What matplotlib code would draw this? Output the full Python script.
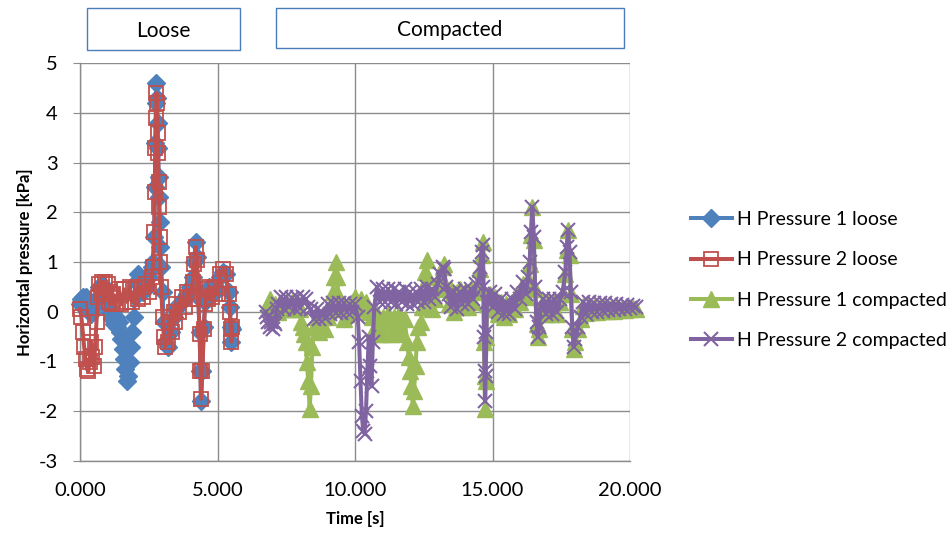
import matplotlib
matplotlib.use("Agg")
import matplotlib.pyplot as plt
from matplotlib.patches import Rectangle

plt.rcParams['font.family'] = ['Lato', 'DejaVu Sans']

# ---------------- data: (time [s], pressure [kPa]) ----------------
p1_loose_pts = [
    (0.00, 0.15), (0.05, 0.25), (0.10, 0.30), (0.15, 0.20), (0.20, 0.30), (0.25, 0.10),
    (0.30, 0.20), (0.40, -0.05), (0.50, 0.10), (0.60, 0.25), (0.70, 0.50), (0.80, 0.55),
    (0.90, 0.45), (1.00, 0.25), (1.05, 0.00), (1.10, 0.10), (1.15, -0.15), (1.20, -0.05),
    (1.25, -0.25), (1.30, -0.10), (1.35, -0.30), (1.40, -0.20), (1.45, -0.40), (1.50, -0.55),
    (1.55, -0.75), (1.60, -0.95), (1.65, -1.15), (1.70, -1.40), (1.75, -1.30), (1.80, -1.00),
    (1.85, -0.70), (1.90, -0.40), (1.95, -0.10), (2.00, 0.30), (2.05, 0.60), (2.10, 0.75),
    (2.20, 0.55), (2.30, 0.40), (2.40, 0.50), (2.50, 0.70), (2.60, 0.90), (2.65, 1.00),
    (2.70, 1.50), (2.72, 2.50), (2.74, 3.40), (2.76, 4.20), (2.78, 4.60), (2.80, 4.30),
    (2.82, 3.80), (2.84, 3.30), (2.86, 2.70), (2.88, 2.30), (2.90, 1.80), (2.92, 1.30),
    (2.95, 0.90), (3.00, 0.40), (3.05, -0.20), (3.10, -0.60), (3.20, -0.70), (3.30, -0.40),
    (3.40, -0.10), (3.50, 0.05), (3.60, 0.15), (3.70, 0.20), (3.80, 0.30), (3.90, 0.35),
    (4.00, 0.50), (4.10, 0.70), (4.15, 1.00), (4.20, 1.40), (4.25, 1.10), (4.30, 0.30),
    (4.35, -0.40), (4.38, -1.20), (4.40, -1.80), (4.45, -1.20), (4.50, -0.30), (4.55, 0.20),
    (4.60, 0.45), (4.70, 0.50), (4.80, 0.40), (4.90, 0.40), (5.00, 0.45), (5.10, 0.70),
    (5.20, 0.80), (5.30, 0.75), (5.40, 0.40), (5.45, 0.10), (5.48, -0.30), (5.50, -0.60),
    (5.53, -0.35),
]

p2_loose_pts = [
    (0.00, 0.05), (0.05, -0.10), (0.10, -0.40), (0.15, -0.70), (0.20, -0.95), (0.25, -1.15),
    (0.30, -1.20), (0.35, -1.00), (0.40, -0.60), (0.45, -0.90), (0.50, -1.10), (0.55, -0.70),
    (0.60, -0.20), (0.65, 0.30), (0.70, 0.55), (0.75, 0.35), (0.80, 0.60), (0.85, 0.40),
    (0.90, 0.60), (0.95, 0.35), (1.00, 0.55), (1.05, 0.20), (1.10, 0.40), (1.15, 0.15),
    (1.20, 0.35), (1.30, 0.15), (1.40, 0.45), (1.50, 0.15), (1.60, 0.45), (1.70, 0.20),
    (1.80, 0.50), (1.90, 0.20), (2.00, 0.45), (2.10, 0.25), (2.20, 0.50), (2.30, 0.30),
    (2.40, 0.55), (2.50, 0.40), (2.60, 0.70), (2.65, 0.90), (2.70, 1.60), (2.72, 2.40),
    (2.74, 3.30), (2.76, 3.90), (2.78, 4.40), (2.80, 4.20), (2.82, 3.60), (2.84, 3.20),
    (2.86, 2.60), (2.88, 2.10), (2.90, 1.50), (2.92, 1.00), (2.95, 0.50), (3.00, -0.10),
    (3.05, -0.50), (3.10, -0.70), (3.20, -0.60), (3.30, -0.20), (3.35, -0.40), (3.40, 0.00),
    (3.45, -0.20), (3.50, 0.15), (3.60, 0.00), (3.70, 0.30), (3.80, 0.10), (3.90, 0.40),
    (4.00, 0.25), (4.10, 0.60), (4.15, 0.95), (4.20, 1.30), (4.25, 1.05), (4.30, 0.25),
    (4.35, -0.45), (4.38, -1.20), (4.40, -1.75), (4.45, -1.20), (4.50, -0.35), (4.55, 0.15),
    (4.60, 0.45), (4.65, 0.25), (4.70, 0.50), (4.80, 0.30), (4.90, 0.50), (5.00, 0.35),
    (5.10, 0.75), (5.20, 0.85), (5.30, 0.75), (5.40, 0.35), (5.45, 0.00), (5.48, -0.35),
    (5.50, -0.60), (5.53, -0.30),
]

p1_comp_pts = [
    (6.85, 0.15), (6.90, 0.25), (7.00, 0.05), (7.10, 0.15), (7.20, 0.00), (7.30, 0.20),
    (7.40, 0.05), (7.50, 0.20), (7.60, 0.05), (7.70, 0.20), (7.80, 0.05), (7.90, 0.20),
    (8.00, 0.05), (8.05, -0.20), (8.10, -0.30), (8.15, -0.45), (8.20, -0.60), (8.25, -1.00),
    (8.30, -1.40), (8.35, -1.95), (8.40, -1.50), (8.45, -0.70), (8.50, -0.30), (8.60, -0.10),
    (8.70, -0.40), (8.80, -0.10), (8.90, -0.35), (9.00, -0.10), (9.10, 0.10), (9.20, 0.40),
    (9.25, 0.70), (9.30, 1.00), (9.35, 0.70), (9.40, 0.30), (9.50, 0.05), (9.60, -0.15),
    (9.70, 0.10), (9.80, -0.05), (9.90, 0.20), (10.00, 0.30), (10.10, 0.10), (10.20, 0.25),
    (10.30, 0.05), (10.40, 0.20), (10.50, 0.00), (10.60, -0.10), (10.70, -0.35), (10.80, -0.05),
    (10.90, -0.45), (11.00, -0.10), (11.10, -0.45), (11.20, -0.05), (11.30, -0.45), (11.40, -0.10),
    (11.50, -0.40), (11.60, -0.05), (11.70, -0.45), (11.80, -0.15), (11.90, -0.60), (11.95, -0.90),
    (12.00, -1.20), (12.05, -1.50), (12.10, -1.90), (12.15, -1.60), (12.20, -1.10), (12.25, -0.60),
    (12.30, -0.30), (12.40, -0.20), (12.45, 0.10), (12.50, 0.50), (12.55, 0.80), (12.60, 1.05),
    (12.65, 0.70), (12.70, 0.30), (12.80, 0.05), (12.90, 0.25), (13.00, 0.45), (13.10, 0.70),
    (13.20, 0.90), (13.25, 0.95), (13.30, 0.50), (13.40, 0.15), (13.50, 0.45), (13.60, 0.00),
    (13.70, 0.40), (13.80, 0.45), (13.90, 0.10), (14.00, 0.40), (14.10, 0.10), (14.20, 0.45),
    (14.30, 0.20), (14.40, 0.50), (14.50, 0.55), (14.55, 0.85), (14.60, 1.15), (14.65, 1.40),
    (14.67, 0.40), (14.69, -0.60), (14.71, -1.30), (14.73, -1.95), (14.75, -1.40), (14.78, -0.50),
    (14.80, 0.15), (14.90, 0.35), (15.00, 0.05), (15.10, 0.30), (15.20, -0.05), (15.30, 0.20),
    (15.40, -0.10), (15.50, 0.15), (15.60, -0.05), (15.70, 0.20), (15.80, 0.05), (15.90, 0.35),
    (16.00, 0.20), (16.10, 0.55), (16.20, 0.30), (16.30, 0.65), (16.35, 0.95), (16.40, 1.55),
    (16.45, 2.10), (16.50, 1.45), (16.55, 0.45), (16.60, -0.25), (16.65, -0.50), (16.70, -0.35),
    (16.75, 0.05), (16.85, 0.20), (16.95, -0.05), (17.05, 0.20), (17.15, -0.05), (17.25, 0.20),
    (17.35, -0.05), (17.45, 0.20), (17.55, 0.35), (17.65, 0.75), (17.70, 1.25), (17.75, 1.65),
    (17.80, 1.15), (17.85, 0.35), (17.90, -0.35), (17.95, -0.75), (18.00, -0.60), (18.10, -0.35),
    (18.20, -0.15), (18.30, 0.12), (18.40, -0.02), (18.50, 0.12), (18.60, 0.00), (18.70, 0.10),
    (18.80, 0.00), (18.90, 0.10), (19.00, 0.02), (19.10, 0.10), (19.20, 0.02), (19.30, 0.08),
    (19.40, 0.02), (19.50, 0.08), (19.60, 0.03), (19.70, 0.07), (19.80, 0.03), (19.90, 0.07),
    (20.00, 0.05), (20.10, 0.07), (20.20, 0.05),
]

p2_comp_pts = [
    (6.75, 0.00), (6.80, -0.10), (6.85, -0.20), (6.90, -0.30), (6.95, -0.20), (7.00, -0.35),
    (7.05, -0.20), (7.10, -0.25), (7.15, 0.05), (7.20, 0.15), (7.30, 0.30), (7.40, 0.05),
    (7.50, 0.30), (7.60, 0.10), (7.70, 0.28), (7.80, 0.05), (7.90, 0.30), (8.00, 0.08),
    (8.10, 0.30), (8.20, 0.25), (8.30, 0.10), (8.40, 0.05), (8.50, -0.15), (8.60, 0.05),
    (8.70, -0.15), (8.80, 0.00), (8.90, -0.12), (9.00, 0.15), (9.10, -0.05), (9.20, 0.18),
    (9.30, -0.02), (9.40, 0.18), (9.50, -0.02), (9.60, 0.18), (9.70, 0.00), (9.80, 0.15),
    (9.90, 0.00), (10.00, 0.15), (10.10, -0.10), (10.15, -0.60), (10.20, -1.40), (10.25, -2.10),
    (10.30, -2.40), (10.35, -2.45), (10.40, -2.00), (10.45, -1.20), (10.50, -0.50), (10.55, -1.10),
    (10.60, -1.50), (10.65, -0.60), (10.70, 0.10), (10.80, 0.50), (10.90, 0.20), (11.00, 0.45),
    (11.10, 0.20), (11.20, 0.45), (11.30, 0.20), (11.40, 0.45), (11.50, 0.15), (11.60, 0.40),
    (11.70, 0.20), (11.80, 0.45), (11.90, 0.15), (12.00, 0.40), (12.10, 0.15), (12.20, 0.40),
    (12.30, 0.20), (12.40, 0.45), (12.50, 0.20), (12.60, 0.50), (12.70, 0.25), (12.80, 0.45),
    (12.90, 0.30), (13.00, 0.55), (13.10, 0.75), (13.20, 0.90), (13.25, 0.85), (13.30, 0.50),
    (13.40, 0.35), (13.50, 0.10), (13.60, 0.40), (13.70, 0.05), (13.80, 0.40), (13.90, 0.15),
    (14.00, 0.45), (14.10, 0.15), (14.20, 0.45), (14.30, 0.25), (14.40, 0.55), (14.50, 0.60),
    (14.55, 0.90), (14.60, 1.20), (14.65, 1.35), (14.67, 0.50), (14.69, -0.50), (14.71, -1.20),
    (14.73, -1.80), (14.75, -1.30), (14.78, -0.40), (14.80, 0.20), (14.90, 0.40), (15.00, 0.10),
    (15.10, 0.35), (15.20, 0.00), (15.30, 0.25), (15.40, -0.05), (15.50, 0.20), (15.60, -0.05),
    (15.70, 0.25), (15.80, 0.05), (15.90, 0.40), (16.00, 0.25), (16.10, 0.60), (16.20, 0.35),
    (16.30, 0.70), (16.35, 1.00), (16.40, 1.60), (16.45, 2.10), (16.50, 1.50), (16.55, 0.50),
    (16.60, -0.20), (16.65, -0.50), (16.70, -0.30), (16.75, 0.10), (16.85, 0.25), (16.95, -0.05),
    (17.05, 0.25), (17.15, -0.05), (17.25, 0.25), (17.35, 0.00), (17.45, 0.25), (17.55, 0.40),
    (17.65, 0.80), (17.70, 1.30), (17.75, 1.65), (17.80, 1.20), (17.85, 0.40), (17.90, -0.30),
    (17.95, -0.70), (18.00, -0.55), (18.10, -0.30), (18.20, -0.10), (18.30, 0.20), (18.40, -0.05),
    (18.50, 0.20), (18.60, 0.00), (18.70, 0.18), (18.80, 0.00), (18.90, 0.18), (19.00, 0.02),
    (19.10, 0.17), (19.20, 0.03), (19.30, 0.16), (19.40, 0.04), (19.50, 0.15), (19.60, 0.05),
    (19.70, 0.14), (19.80, 0.06), (19.90, 0.13), (20.00, 0.07), (20.10, 0.12), (20.20, 0.10),
]

series_names = ["H Pressure 1 loose", "H Pressure 2 loose",
                "H Pressure 1 compacted", "H Pressure 2 compacted"]
x_ticks = [0, 5, 10, 15, 20]
x_tick_labels = ["0.000", "5.000", "10.000", "15.000", "20.000"]
y_ticks = [-3, -2, -1, 0, 1, 2, 3, 4, 5]
box_labels = ["Loose", "Compacted"]


def unzip(pts):
    return [p[0] for p in pts], [p[1] for p in pts]


# ---------------- figure ----------------
W, H = 949, 533
fig = plt.figure(figsize=(W / 100, H / 100), dpi=100)
ax = fig.add_axes([80 / W, 1 - 461 / H, (630 - 80) / W, (461 - 63) / H])

c_blue, c_red, c_green, c_purple = "#4F81BD", "#C0504D", "#9BBB59", "#8064A2"
lw = 2.9

t, v = unzip(p1_loose_pts)
ax.plot(t, v, color=c_blue, lw=lw, marker="D", ms=9.5,
        mfc=c_blue, mec=c_blue, clip_on=False, zorder=3, label=series_names[0])
t, v = unzip(p2_loose_pts)
ax.plot(t, v, color=c_red, lw=lw, marker="s", ms=10.5,
        mfc="none", mec=c_red, mew=1.3, clip_on=False, zorder=4, label=series_names[1])
t, v = unzip(p1_comp_pts)
ax.plot(t, v, color=c_green, lw=lw, marker="^", ms=11,
        mfc=c_green, mec=c_green, clip_on=False, zorder=3, label=series_names[2])
t, v = unzip(p2_comp_pts)
ax.plot(t, v, color=c_purple, lw=lw, marker="x", ms=10,
        mec=c_purple, mew=1.5, clip_on=False, zorder=4, label=series_names[3])

ax.set_xlim(0, 20)
ax.set_ylim(-3, 5)
ax.set_xticks(x_ticks)
ax.set_xticklabels(x_tick_labels)
ax.set_yticks(y_ticks)
ax.set_yticklabels([str(y) for y in y_ticks])

grid_c = "#8C8C8C"
ax.grid(True, color=grid_c, lw=1.0, zorder=0)
ax.set_axisbelow(True)
for s in ["top", "right"]:
    ax.spines[s].set_visible(False)
for s in ["left", "bottom"]:
    ax.spines[s].set_color(grid_c)
    ax.spines[s].set_linewidth(1.0)
ax.tick_params(axis="both", direction="out", length=5, color=grid_c,
               labelsize=14.5, labelcolor="black")
ax.tick_params(axis="y", pad=11)
ax.tick_params(axis="x", length=0, pad=15)

ax.set_xlabel("Time [s]", fontsize=12, fontweight="bold", labelpad=9)
ax.set_ylabel("Horizontal pressure [kPa]", fontsize=12, fontweight="bold", labelpad=4)

leg = ax.legend(loc="center left", bbox_to_anchor=(683 / W, 1 - 280 / H),
                bbox_transform=fig.transFigure, frameon=False, fontsize=14,
                handlelength=2.1, handletextpad=0.3, labelspacing=1.2,
                borderaxespad=0)

# Text boxes above the plot
boxes = [(87, 8, 240, 50), (276, 8, 624, 48)]
for (x0, y0, x1, y1), lab in zip(boxes, box_labels):
    fig.patches.append(Rectangle((x0 / W, 1 - y1 / H), (x1 - x0) / W, (y1 - y0) / H,
                                 transform=fig.transFigure, fill=False,
                                 edgecolor="#4A7EBB", lw=1.0))
    fig.text((x0 + x1) / 2 / W, 1 - ((y0 + y1) / 2 + 2) / H, lab, ha="center",
             va="center", fontsize=15)

fig.savefig("out.png", dpi=100)
